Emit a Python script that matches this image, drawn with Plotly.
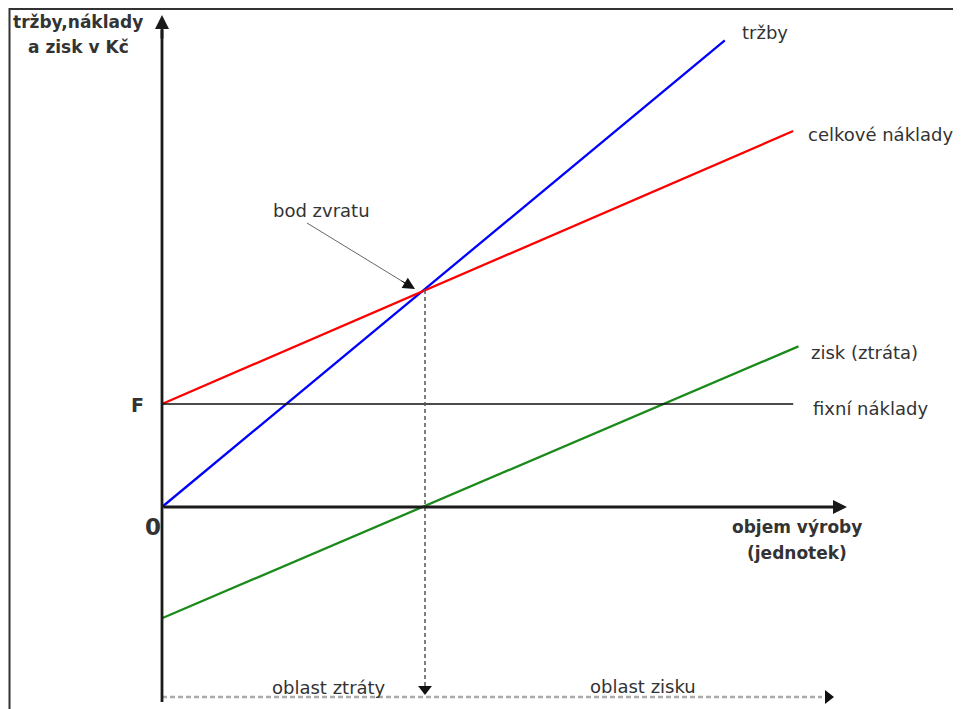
import plotly.graph_objects as go

# ---- data (volume in units, values in Kč) ----
revenue_q = [0, 21.4]
revenue_v = [0, 45.3]
total_cost_q = [0, 24.0]
total_cost_v = [10, 36.5]
profit_q = [0, 24.2]
profit_v = [-10.8, 15.6]
fixed_q = [0, 24.0]
fixed_v = [10, 10]
break_even_q = 10
break_even_v = 21.07
series_labels = ["tržby", "celkové náklady", "zisk (ztráta)", "fixní náklady"]

PAGE_OFF = 8             # browser body margin
W, H = 961 - PAGE_OFF, 709 - PAGE_OFF
OX, OY = 162, 507        # screen pixel position of origin
SX, SY = 26.3, 10.3      # pixels per unit


def X(px):
    return (px - OX) / SX


def Y(py):
    return (OY - py) / SY


FONT = "DejaVu Sans"
TXT = "#333333"
AX = "#1a1a1a"

fig = go.Figure()
fig.add_trace(go.Scatter(x=revenue_q, y=revenue_v, mode="lines",
                         line=dict(color="#0000ff", width=2.3), hoverinfo="skip"))
fig.add_trace(go.Scatter(x=total_cost_q, y=total_cost_v, mode="lines",
                         line=dict(color="#ff0000", width=2.3), hoverinfo="skip"))
fig.add_trace(go.Scatter(x=profit_q, y=profit_v, mode="lines",
                         line=dict(color="#1a8a1a", width=2.3), hoverinfo="skip"))
fig.add_trace(go.Scatter(x=fixed_q, y=fixed_v, mode="lines",
                         line=dict(color="#111111", width=1.7), hoverinfo="skip"))

# triangle heads for dashed arrows
fig.add_trace(go.Scatter(x=[break_even_q], y=[Y(689)], mode="markers",
                         marker=dict(symbol="triangle-down", size=12, color="#111111"),
                         hoverinfo="skip"))
fig.add_trace(go.Scatter(x=[X(828)], y=[Y(697)], mode="markers",
                         marker=dict(symbol="triangle-right", size=12, color="#111111"),
                         hoverinfo="skip"))

shapes = [
    # frame
    dict(type="line", xref="paper", yref="paper", x0=(9 - PAGE_OFF) / W, x1=1,
         y0=1 - (8 - PAGE_OFF + 1) / H, y1=1 - (8 - PAGE_OFF + 1) / H,
         line=dict(color="#333333", width=2)),
    dict(type="line", xref="paper", yref="paper", x0=(9 - PAGE_OFF + 0.5) / W, x1=(9 - PAGE_OFF + 0.5) / W,
         y0=0, y1=1 - (8 - PAGE_OFF) / H,
         line=dict(color="#333333", width=2)),
    # dashed vertical from break-even point
    dict(type="line", x0=break_even_q, x1=break_even_q, y0=break_even_v, y1=Y(686),
         line=dict(color="#555555", width=1.5, dash="4px,3px")),
    # bottom dashed region line
    dict(type="line", x0=0, x1=X(822), y0=Y(697), y1=Y(697),
         line=dict(color="#aaaaaa", width=2.5, dash="5px,3px")),
    # bod zvratu pointer line
    dict(type="line", x0=X(307), y0=Y(223), x1=X(405), y1=Y(283),
         line=dict(color="#666666", width=1)),
    # y axis line
    dict(type="line", x0=0, x1=0, y0=Y(702), y1=Y(30), line=dict(color=AX, width=2.8)),
]

annotations = [
    # y axis arrow head
    dict(x=0, y=Y(15), ax=0, ay=Y(40), xref="x", yref="y", axref="x", ayref="y",
         showarrow=True, arrowhead=2, arrowsize=1.0, arrowwidth=2.8, arrowcolor=AX, text=""),
    # x axis arrow
    dict(x=X(847), y=0, ax=0, ay=0, xref="x", yref="y", axref="x", ayref="y",
         showarrow=True, arrowhead=2, arrowsize=1.0, arrowwidth=2.8, arrowcolor=AX, text=""),
    # bod zvratu arrow head
    dict(x=X(415), y=Y(289), ax=X(400), ay=Y(280), xref="x", yref="y", axref="x", ayref="y",
         showarrow=True, arrowhead=2, arrowsize=2.4, arrowwidth=1, arrowcolor="#111111", text=""),
]


def txt(x, y, s, size=18, bold=False, xanchor="left", color=TXT):
    annotations.append(dict(x=X(x), y=Y(y), xref="x", yref="y", text=s, showarrow=False,
                            xanchor=xanchor, yanchor="middle",
                            font=dict(family=FONT, size=size, color=color,
                                      weight="bold" if bold else "normal")))


txt(78, 22, "tržby,náklady", 17, True, "center")
txt(78, 47, "a zisk v Kč", 17, True, "center")
txt(137, 405, "F", 19, True, "center")
txt(153, 527, "0", 23, True, "center")
txt(740, 32, series_labels[0])
txt(806, 134, series_labels[1])
txt(809, 352, series_labels[2])
txt(811, 408, series_labels[3])
txt(797, 527, "objem výroby", 17, True, "center")
txt(797, 553, "(jednotek)", 17, True, "center")
txt(321, 210, "bod zvratu", 18, False, "center")
txt(329, 687, "oblast ztráty", 18, False, "center")
txt(643, 686, "oblast zisku", 18, False, "center")

fig.update_layout(
    width=W, height=H, autosize=False,
    margin=dict(l=0, r=0, t=0, b=0),
    paper_bgcolor="white", plot_bgcolor="white",
    showlegend=False,
    xaxis=dict(range=[X(PAGE_OFF), X(PAGE_OFF + W)], visible=False, fixedrange=True),
    yaxis=dict(range=[Y(PAGE_OFF + H), Y(PAGE_OFF)], visible=False, fixedrange=True),
    shapes=shapes, annotations=annotations,
)

fig.write_html("out.html")
